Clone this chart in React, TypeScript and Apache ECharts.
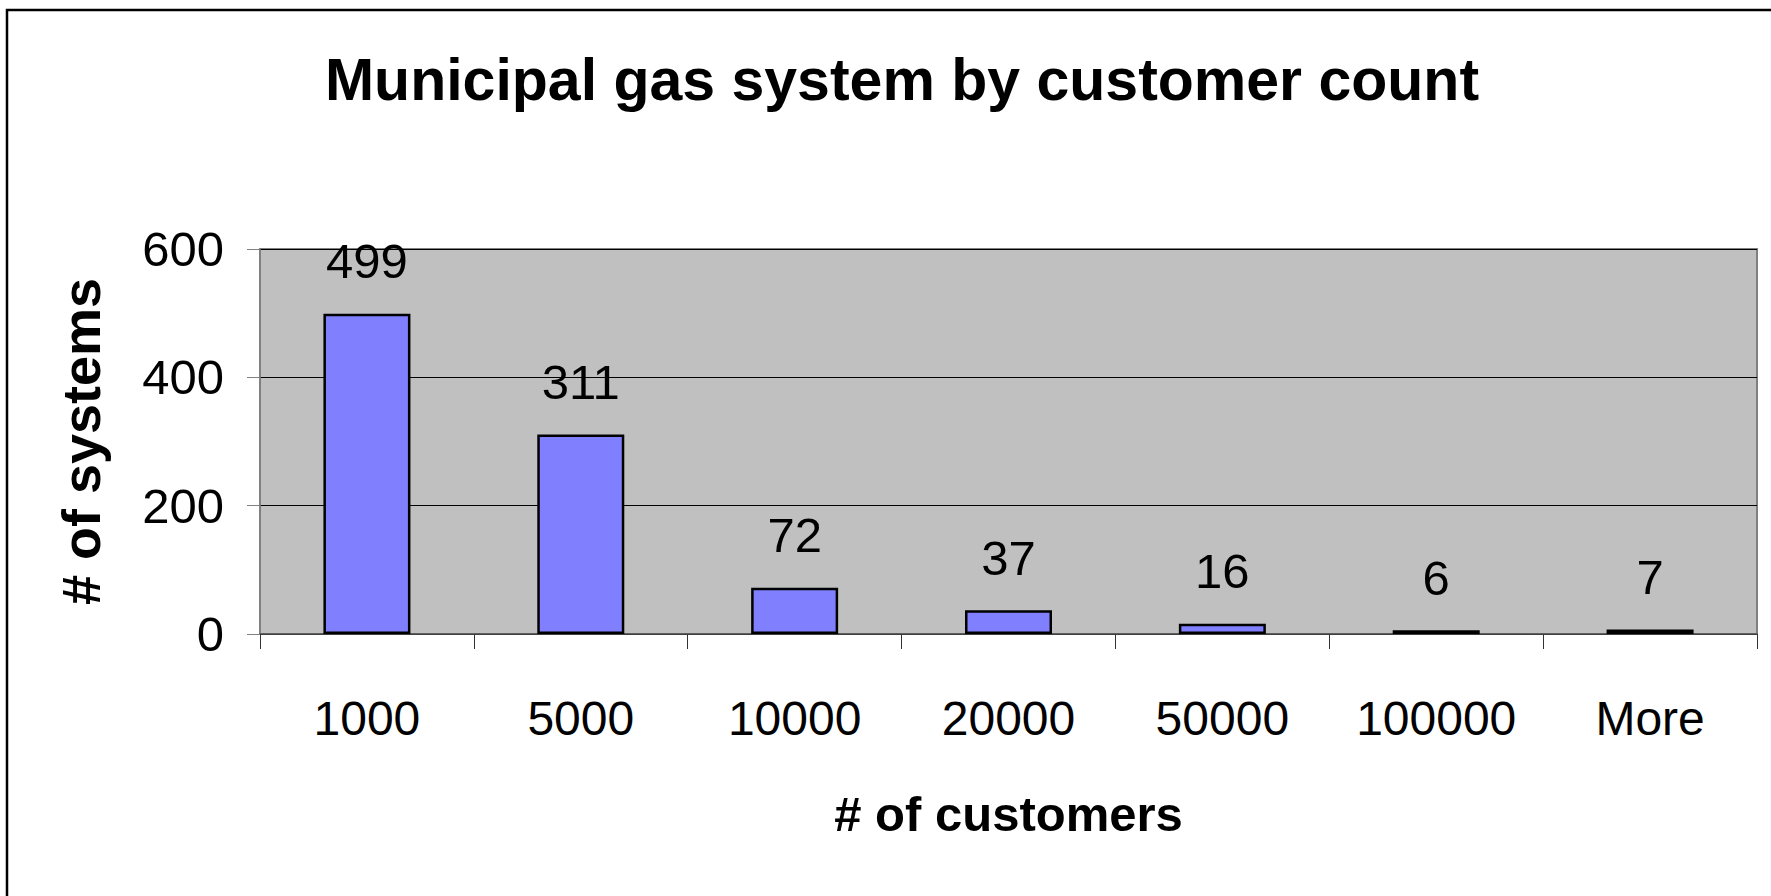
import React, { useEffect, useRef } from "react";
import * as echarts from "echarts";

const titleText = "Municipal gas system by customer count";
const categories = ["1000", "5000", "10000", "20000", "50000", "100000", "More"];
const systemCounts = [499, 311, 72, 37, 16, 6, 7];
const xAxisTitle = "# of customers";
const yAxisTitle = "# of systems";

const FONT = "'Liberation Sans', Arial, Helvetica, sans-serif";

export default function App() {
  const ref = useRef<HTMLDivElement>(null);
  useEffect(() => {
    if (!ref.current) return;
    const chart = echarts.init(ref.current, null, { renderer: "svg" });
    chart.setOption({
      animation: false,
      backgroundColor: "#ffffff",
      title: {
        text: titleText,
        left: 897,
        top: 45,
        textAlign: "center",
        textStyle: { fontFamily: FONT, fontSize: 59, fontWeight: "bold", color: "#000" },
      },
      graphic: [
        {
          type: "rect",
          shape: { x: 7, y: 10, width: 1800, height: 920 },
          style: { fill: "none", stroke: "#000", lineWidth: 2.5 },
          silent: true,
          z: 100,
        },
      ],
      grid: {
        left: 260,
        right: 14,
        top: 249,
        bottom: 262,
        show: true,
        backgroundColor: "#C0C0C0",
        borderColor: "#808080",
        borderWidth: 2,
      },
      xAxis: {
        type: "category",
        data: categories,
        name: xAxisTitle,
        nameLocation: "middle",
        nameGap: 155,
        nameTextStyle: { fontFamily: FONT, fontSize: 49, fontWeight: "bold", color: "#000" },
        axisLine: { show: true, lineStyle: { color: "#555", width: 1.5 } },
        axisTick: { show: true, length: 15, lineStyle: { color: "#333", width: 1 } },
        axisLabel: { fontFamily: FONT, fontSize: 48, color: "#000", margin: 60, interval: 0 },
        splitLine: { show: false },
      },
      yAxis: {
        type: "value",
        min: 0,
        max: 600,
        interval: 200,
        name: yAxisTitle,
        nameLocation: "middle",
        nameGap: 152,
        nameTextStyle: { fontFamily: FONT, fontSize: 54, fontWeight: "bold", color: "#000" },
        axisLine: { show: true, lineStyle: { color: "#808080", width: 1.5 } },
        axisTick: { show: true, length: 13, lineStyle: { color: "#808080", width: 1 } },
        axisLabel: { fontFamily: FONT, fontSize: 49, color: "#000", margin: 36 },
        splitLine: { show: true, lineStyle: { color: "#000", width: 1 } },
      },
      series: [
        {
          type: "bar",
          data: systemCounts,
          barWidth: 87,
          itemStyle: { color: "#8080FF", borderColor: "#000", borderWidth: 2.5 },
          label: {
            show: true,
            position: "top",
            distance: 28,
            fontFamily: FONT,
            fontSize: 49,
            color: "#000",
          },
        },
      ],
    });
    return () => chart.dispose();
  }, []);
  return (
    <div
      ref={ref}
      style={{ position: "fixed", left: 0, top: 0, width: 1771, height: 896 }}
    />
  );
}
